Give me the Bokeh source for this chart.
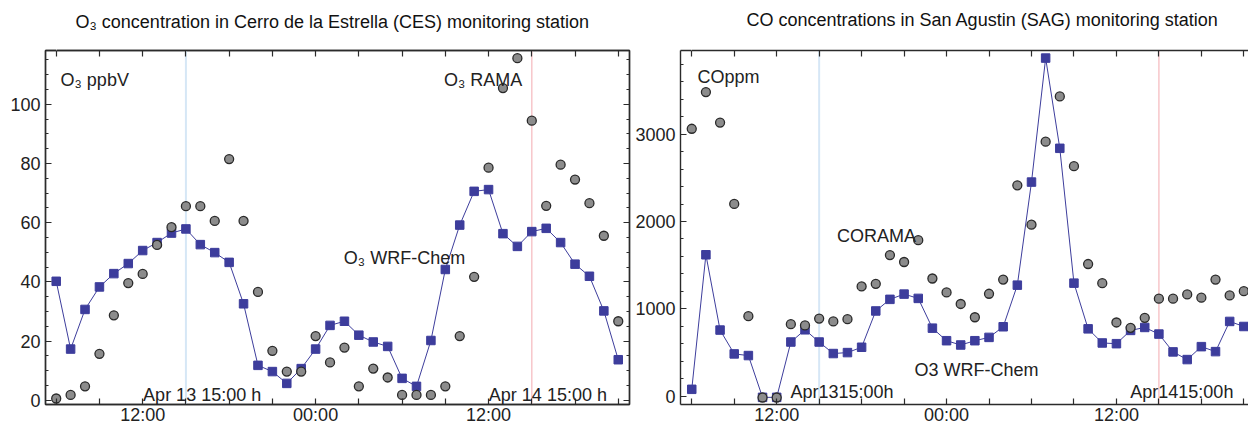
from bokeh.plotting import figure
from bokeh.models import Range1d, FixedTicker, SingleIntervalTicker, LinearAxis, Span, Label
from bokeh.layouts import row
from bokeh.embed import file_html
from bokeh.resources import INLINE

# hourly time stamps: hours since Apr 13 00:00 (Apr 13 06:00 ... Apr 14 21:00)
hours = list(range(6, 46))

o3_wrf = [40.2, 17.3, 30.7, 38.3, 42.8, 46.2, 50.6, 53.3, 56.5, 57.9,
          52.6, 49.9, 46.6, 32.6, 11.8, 9.7, 5.7, 10.7, 17.3, 25.3,
          26.7, 22.0, 19.7, 18.2, 7.4, 4.7, 20.2, 44.2, 59.2, 70.6,
          71.2, 56.3, 52.0, 57.0, 58.1, 53.3, 46.0, 41.9, 30.2, 13.7]
o3_rama = [0.6, 1.8, 4.7, 15.7, 28.7, 39.6, 42.7, 52.5, 58.5, 65.6,
           65.6, 60.6, 81.5, 60.6, 36.6, 16.7, 9.7, 9.7, 21.7, 12.8,
           17.8, 4.7, 10.7, 7.7, 1.8, 1.8, 1.8, 4.7, 21.7, 41.7,
           78.6, 105.5, 115.6, 94.5, 65.7, 79.6, 74.6, 66.6, 55.6, 26.7]
co_wrf = [77, 1619, 756, 483, 464, -15, -15, 619, 759, 619,
          487, 498, 559, 975, 1108, 1168, 1119, 778, 634, 585,
          634, 672, 794, 1271, 2452, 3873, 2839, 1294, 770, 608,
          600, 752, 786, 710, 506, 418, 566, 509, 855, 797]
co_rama = [3063, 3483, 3134, 2202, 915, -17, -17, 824, 809, 888,
           855, 881, 1256, 1286, 1616, 1536, 1786, 1347, 1187, 1055,
           903, 1172, 1335, 2415, 1964, 2915, 3434, 2634, 1513, 1294,
           843, 782, 896, 1116, 1116, 1165, 1127, 1335, 1153, 1202]

x_ticks = list(range(6, 46, 3))                     # tick every 3 hours
x_label_ticks = [12, 24, 36]
x_tick_labels = {12: "12:00", 24: "00:00", 36: "12:00"}
marker_hours = [15, 39]  # Apr 13 15:00 and Apr 14 15:00

title_o3 = "O\u2083 concentration in Cerro de la Estrella (CES) monitoring station"
title_co = "CO concentrations in San Agustin (SAG) monitoring station"

FONT = "Liberation Sans"
TXT = "#222222"
FRAME = "#2b2b2b"
BLUE = "#3d3d9c"
FS = "18px"


def style_axis(ax, standoff=0, minor_len=3):
    ax.axis_line_color = FRAME
    ax.axis_line_width = 1.4
    ax.major_tick_line_color = FRAME
    ax.minor_tick_line_color = FRAME
    ax.major_tick_line_width = 1.2
    ax.minor_tick_line_width = 1.2
    ax.major_tick_in = 6
    ax.major_tick_out = 0
    ax.minor_tick_in = minor_len
    ax.minor_tick_out = 0
    ax.major_label_text_font = FONT
    ax.major_label_text_color = TXT
    ax.major_label_text_font_size = FS
    ax.major_label_standoff = standoff


def make_panel(title, width, x0, x1, y0, y1, yint, ystep, ymax, bl, br, bt, toff, gap, right_axis):
    p = figure(width=width, height=427, x_range=Range1d(x0, x1), y_range=Range1d(y0, y1),
               output_backend="svg", toolbar_location=None,
               min_border_left=bl, min_border_right=br, min_border_top=bt, min_border_bottom=5)
    p.title.text = title
    p.title.text_font = FONT
    p.title.text_font_size = FS
    p.title.text_font_style = "normal"
    p.title.text_color = "#111111"
    p.title.align = "left"
    p.title.offset = toff
    p.title.standoff = 8
    p.xgrid.visible = False
    p.ygrid.visible = False
    p.background_fill_color = "white"
    p.border_fill_color = "white"
    p.outline_line_color = FRAME if right_axis else None
    p.outline_line_width = 1.4

    minor_x = [t for t in x_ticks if t not in x_label_ticks]
    p.xaxis.ticker = FixedTicker(ticks=x_label_ticks, minor_ticks=minor_x)
    p.xaxis.major_label_overrides = x_tick_labels
    style_axis(p.xaxis[0], 0, 6)

    p.yaxis.ticker = SingleIntervalTicker(interval=yint, num_minor_ticks=round(yint / ystep))
    style_axis(p.yaxis[0], 5, 3)

    top = LinearAxis(ticker=FixedTicker(ticks=[], minor_ticks=x_ticks))
    style_axis(top, 0, 6)
    p.add_layout(top, "above")
    # white spacer between the frame and the title
    spacer = LinearAxis(ticker=FixedTicker(ticks=[], minor_ticks=x_ticks[:1]))
    spacer.axis_line_color = None
    spacer.major_tick_line_color = None
    spacer.minor_tick_line_color = "white"
    spacer.minor_tick_line_width = 0.5
    spacer.major_tick_in = 0
    spacer.major_tick_out = 0
    spacer.minor_tick_in = 0
    spacer.minor_tick_out = gap
    p.add_layout(spacer, "above")
    if right_axis:
        majors = [v for v in range(0, ymax + 1, yint)]
        minors = [v for v in range(0, ymax + 1, ystep)]
        ra1 = LinearAxis(ticker=FixedTicker(ticks=[], minor_ticks=majors))
        style_axis(ra1, 0, 6)
        p.add_layout(ra1, "right")
        ra2 = LinearAxis(ticker=FixedTicker(ticks=[], minor_ticks=minors))
        style_axis(ra2, 0, 3)
        ra2.axis_line_color = None
        p.add_layout(ra2, "right")

    for h, col, w in zip(marker_hours, ["#d6e7f6", "#f7c6ca"], [2, 1.5]):
        p.add_layout(Span(location=h, dimension="height", line_color=col, line_width=w, level="underlay"))
    return p


def add_label(p, x, y, text):
    p.add_layout(Label(x=x, y=y, text=text, text_font=FONT, text_font_size=FS,
                       text_color=TXT, text_baseline="alphabetic", text_align="left"))


# ---- left panel: O3 ----
p1 = make_panel(title_o3, 632, 5.257, 45.78, -1.43, 118.2, 20, 5, 115, 45, 3, 48, 30, 15, True)
p1.line(hours, o3_wrf, line_color=BLUE, line_width=1)
p1.scatter(hours, o3_wrf, marker="square", size=8.5, fill_color=BLUE, line_color=BLUE)
p1.scatter(hours, o3_rama, marker="circle", size=9, fill_color="#8c8c8c", line_color="#2a2a2a", line_width=1.3)
add_label(p1, 6.3, 108.2, "O\u2083 ppbV")
add_label(p1, 32.9, 108.2, "O\u2083 RAMA")
add_label(p1, 25.96, 48.2, "O\u2083 WRF-Chem")
add_label(p1, 12.03, 1.9, "Apr 13 15:00 h")
add_label(p1, 36.02, 1.9, "Apr 14 15:00 h")

# ---- right panel: CO ----
p2 = make_panel(title_co, 616, 5.205, 45.33, -97, 3960, 1000, 200, 3800, 46, 0, 50, 66, 17, False)
p2.line(hours, co_wrf, line_color=BLUE, line_width=1)
p2.scatter(hours, co_wrf, marker="square", size=8.5, fill_color=BLUE, line_color=BLUE)
p2.scatter(hours, co_rama, marker="circle", size=9, fill_color="#8c8c8c", line_color="#2a2a2a", line_width=1.3)
add_label(p2, 6.4, 3653, "COppm")
add_label(p2, 16.26, 1835, "CORAMA")
add_label(p2, 21.73, 301, "O3 WRF-Chem")
add_label(p2, 12.97, 51, "Apr1315:00h")
add_label(p2, 36.98, 51, "Apr1415:00h")

layout = row(p1, p2)
open("out.html", "w").write(file_html(layout, INLINE))
